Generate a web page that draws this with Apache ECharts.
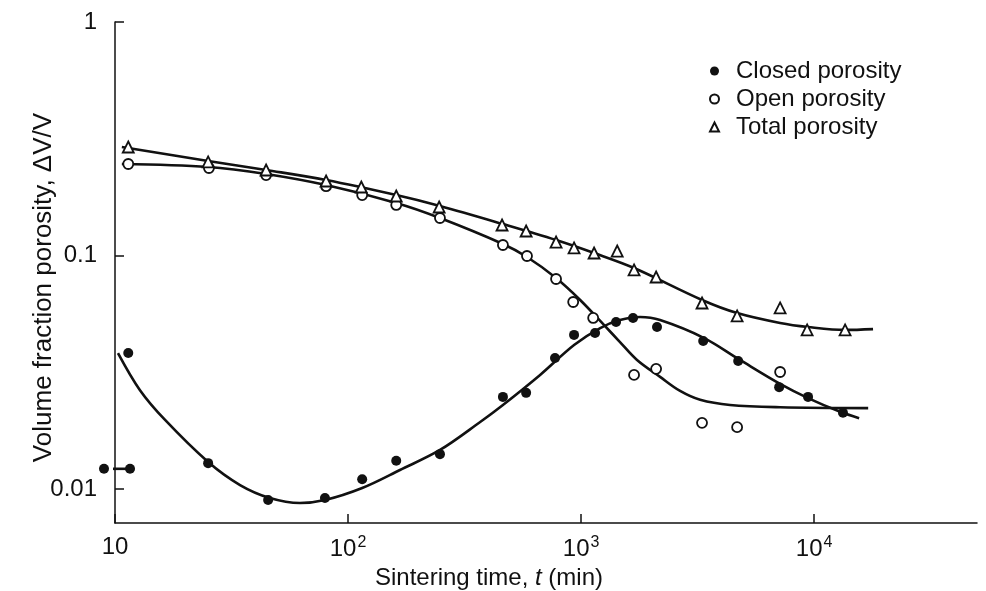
<!DOCTYPE html>
<html>
<head>
<meta charset="utf-8">
<script src="https://cdn.jsdelivr.net/npm/echarts@6/dist/echarts.min.js"></script>
<style>
  html, body { margin: 0; background: #fff; }
  #chart { width: 986px; height: 591px; }
</style>
</head>
<body>
<div id="chart"></div>
<script>
// measured points (sintering time in min, volume fraction)
const closedT = [11.4, 25.1, 45.4, 79.6, 115, 161, 248, 462, 581, 773, 933, 1148, 1413, 1671, 2118, 3342, 4722, 7079, 9420, 13300];
const closedV = [0.0382, 0.0129, 0.00897, 0.00915, 0.0110, 0.0132, 0.0141, 0.0248, 0.0258, 0.0364, 0.0457, 0.0466, 0.0519, 0.0540, 0.0494, 0.0430, 0.0353, 0.0273, 0.0248, 0.0212];

const openT = [11.4, 25.3, 44.5, 80.5, 115, 161, 248, 462, 586, 781, 925, 1127, 1688, 2099, 3304, 4673, 7147];
const openV = [0.2465, 0.237, 0.221, 0.198, 0.1815, 0.1646, 0.1447, 0.1109, 0.0995, 0.0793, 0.0632, 0.054, 0.0308, 0.0327, 0.0192, 0.0184, 0.0317];

const totalT = [11.4, 25.1, 44.5, 80.5, 114, 161, 246, 458, 581, 781, 933, 1137, 1429, 1688, 2099, 3304, 4673, 7147, 9333, 13580];
const totalV = [0.2915, 0.2515, 0.2324, 0.2085, 0.1965, 0.1798, 0.1613, 0.1351, 0.1273, 0.1142, 0.1077, 0.1025, 0.1045, 0.0867, 0.0809, 0.0626, 0.0551, 0.0596, 0.048, 0.048];

// the short bar at t ~ 10 min
const barT = [8.97, 11.6];
const barV = [0.0122, 0.0122];

// fitted curves
const closedFitT = [10.3, 12.8, 16.4, 25.1, 34.4, 46.2, 62.2, 79.6, 115, 167, 248, 369, 462, 667, 933, 1208, 1469, 1791, 2183, 3373, 4808, 7147, 9420, 12940, 15600];
const closedFitV = [0.0382, 0.0265, 0.01975, 0.01305, 0.0104, 0.00915, 0.00871, 0.00897, 0.0101, 0.01206, 0.01469, 0.01936, 0.0229, 0.0308, 0.0414, 0.0489, 0.0529, 0.0545, 0.0529, 0.0443, 0.0357, 0.0282, 0.0245, 0.0214, 0.0201];

const openFitT = [10.7, 25.1, 44.5, 80.5, 161, 248, 462, 586, 781, 991, 1242, 1469, 1738, 2183, 2660, 3243, 4357, 7147, 17060];
const openFitV = [0.2465, 0.2393, 0.2234, 0.2003, 0.1678, 0.1447, 0.112, 0.0985, 0.0801, 0.0645, 0.0509, 0.0426, 0.0357, 0.0302, 0.0263, 0.0241, 0.0229, 0.0224, 0.0222];

const totalFitT = [10.7, 25.1, 44.5, 80.5, 161, 248, 462, 781, 1137, 1688, 3304, 4673, 7147, 9420, 13580, 17900];
const totalFitV = [0.2915, 0.254, 0.2324, 0.2105, 0.1815, 0.163, 0.1364, 0.1165, 0.1025, 0.0884, 0.0645, 0.0567, 0.0514, 0.0494, 0.048, 0.0484];

const xTicks = [10, 100, 1000, 10000];
const yTicks = [0.01, 0.1, 1];

const zip = (a, b) => a.map((v, i) => [v, b[i]]);
const font = '"Liberation Sans", Arial, Helvetica, sans-serif';
const ink = '#111';

const chart = echarts.init(document.getElementById('chart'));

const fitLine = (t, v) => ({
  type: 'line',
  data: zip(t, v),
  smooth: 0.35,
  symbol: 'none',
  lineStyle: { color: ink, width: 2.6 },
  z: 2,
  silent: true
});

chart.setOption({
  animation: false,
  backgroundColor: '#fff',
  textStyle: { fontFamily: font },
  grid: { left: 115, right: 9, top: 22, bottom: 68, outerBoundsMode: 'none', containLabel: false },
  legend: {
    orient: 'vertical',
    left: 704,
    top: 54,
    itemWidth: 9,
    itemHeight: 9,
    itemGap: 4,
    textStyle: { fontSize: 24, lineHeight: 24, color: ink, fontFamily: font, padding: [0, 0, 0, 12] },
    data: ['Closed porosity', 'Open porosity', 'Total porosity']
  },
  xAxis: {
    type: 'log',
    logBase: 10,
    min: 10,
    max: 50000,
    name: 'Sintering time, {i|t} (min)',
    nameLocation: 'middle',
    nameGap: 26,
    nameTextStyle: {
      fontSize: 24,
      color: ink,
      padding: [0, 114, 0, 0],
      rich: { i: { fontStyle: 'italic', fontSize: 24, color: ink } }
    },
    splitLine: { show: false },
    axisLine: { lineStyle: { color: ink, width: 1.5 } },
    axisTick: { inside: true, length: 9, customValues: xTicks, lineStyle: { color: ink, width: 1.5 } },
    axisLabel: {
      customValues: xTicks,
      color: ink,
      fontSize: 24,
      margin: 12,
      formatter: (v) => {
        const e = Math.round(Math.log10(v));
        if (Math.abs(Math.log10(v) - e) > 1e-6) return '';
        return e === 1 ? '10' : '10{s|' + e + '}';
      },
      rich: { s: { fontSize: 16, color: ink, padding: [0, 0, 13, 1] } }
    }
  },
  yAxis: {
    type: 'log',
    logBase: 10,
    min: 0.00715,
    max: 1,
    name: 'Volume fraction porosity, \u0394V/V',
    nameLocation: 'middle',
    nameGap: 58,
    nameRotate: 90,
    nameMoveOverlap: false,
    nameTextStyle: { fontSize: 26, color: ink, padding: [0, 30, 0, 0] },
    splitLine: { show: false },
    axisLine: { lineStyle: { color: ink, width: 1.5 } },
    axisTick: { inside: true, length: 9, customValues: yTicks, lineStyle: { color: ink, width: 1.5 } },
    axisLabel: {
      customValues: yTicks,
      color: ink,
      fontSize: 24,
      margin: 18,
      formatter: (v) => {
        const e = Math.log10(v);
        if (Math.abs(e - Math.round(e)) > 1e-6) return '';
        return String(v);
      }
    }
  },
  series: [
    fitLine(closedFitT, closedFitV),
    fitLine(openFitT, openFitV),
    fitLine(totalFitT, totalFitV),
    {
      type: 'line',
      data: zip(barT, barV),
      symbol: 'circle',
      symbolSize: 10,
      clip: false,
      itemStyle: { color: ink },
      lineStyle: { color: ink, width: 2.6 },
      z: 3,
      silent: true
    },
    {
      name: 'Closed porosity',
      type: 'scatter',
      data: zip(closedT, closedV),
      symbol: 'circle',
      symbolSize: 10,
      itemStyle: { color: ink, opacity: 1 },
      z: 4
    },
    {
      name: 'Open porosity',
      type: 'scatter',
      data: zip(openT, openV),
      symbol: 'circle',
      symbolSize: 10,
      itemStyle: { color: '#fff', borderColor: ink, borderWidth: 1.8, opacity: 1 },
      z: 4
    },
    {
      name: 'Total porosity',
      type: 'scatter',
      data: zip(totalT, totalV),
      symbol: 'triangle',
      symbolSize: 11,
      itemStyle: { color: '#fff', borderColor: ink, borderWidth: 1.8, opacity: 1 },
      z: 5
    }
  ]
});
</script>
</body>
</html>
